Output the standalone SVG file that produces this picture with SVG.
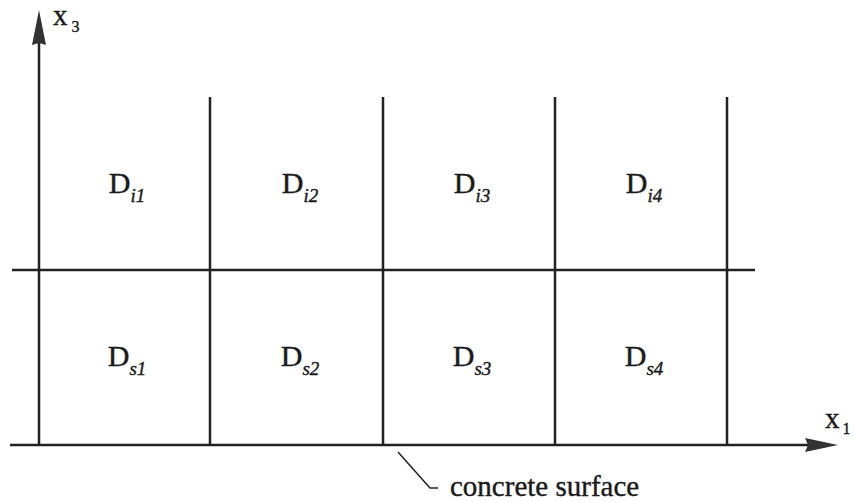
<svg xmlns="http://www.w3.org/2000/svg" width="855" height="502" viewBox="0 0 855 502">
<style>
.ln{stroke:#222;stroke-width:2.5;fill:none}
text{font-family:'Liberation Serif','DejaVu Serif',serif;fill:#1a1a1a;stroke:#1a1a1a;stroke-width:0.4}
.lb{font-size:30px}
.sb{font-style:italic;font-size:19px}
.ax{font-size:29px}
</style>
<rect width="855" height="502" fill="#fff"/>
<g id="connectors">
<line class="ln" x1="39" y1="445" x2="39" y2="40"/>
<path d="M39,10 L46,45 L39,43 L32,45 Z" fill="#333"/>
<line class="ln" x1="10" y1="445" x2="810" y2="445"/>
<path d="M838,445 L805,438 L808,445 L805,452 Z" fill="#333"/>
<line class="ln" x1="12" y1="270" x2="755" y2="270"/>
<line class="ln" x1="210" y1="97" x2="210" y2="445"/>
<line class="ln" x1="383" y1="97" x2="383" y2="445"/>
<line class="ln" x1="555" y1="97" x2="555" y2="445"/>
<line class="ln" x1="727" y1="97" x2="727" y2="445"/>
<polyline points="398,452 430,488 438,488" style="stroke:#222;stroke-width:1.5;fill:none"/>
</g>
<g id="axis-x3"><text class="ax" x="53" y="25" font-size="31">x<tspan font-size="16" dx="4" dy="7">3</tspan></text></g>
<g id="axis-x1"><text class="ax" x="825" y="428" font-size="31">x<tspan font-size="16" dx="3" dy="6">1</tspan></text></g>
<g id="Di1"><text class="lb" x="127" y="193" text-anchor="middle">D<tspan class="sb" dy="9">i1</tspan></text></g>
<g id="Di2"><text class="lb" x="300" y="193" text-anchor="middle">D<tspan class="sb" dy="9">i2</tspan></text></g>
<g id="Di3"><text class="lb" x="472" y="193" text-anchor="middle">D<tspan class="sb" dy="9">i3</tspan></text></g>
<g id="Di4"><text class="lb" x="644" y="193" text-anchor="middle">D<tspan class="sb" dy="9">i4</tspan></text></g>
<g id="Ds1"><text class="lb" x="127" y="366" text-anchor="middle">D<tspan class="sb" dy="9">s1</tspan></text></g>
<g id="Ds2"><text class="lb" x="300" y="366" text-anchor="middle">D<tspan class="sb" dy="9">s2</tspan></text></g>
<g id="Ds3"><text class="lb" x="472" y="366" text-anchor="middle">D<tspan class="sb" dy="9">s3</tspan></text></g>
<g id="Ds4"><text class="lb" x="644" y="366" text-anchor="middle">D<tspan class="sb" dy="9">s4</tspan></text></g>
<g id="surface-label"><text class="ax" x="450" y="496">concrete surface</text></g>
</svg>
